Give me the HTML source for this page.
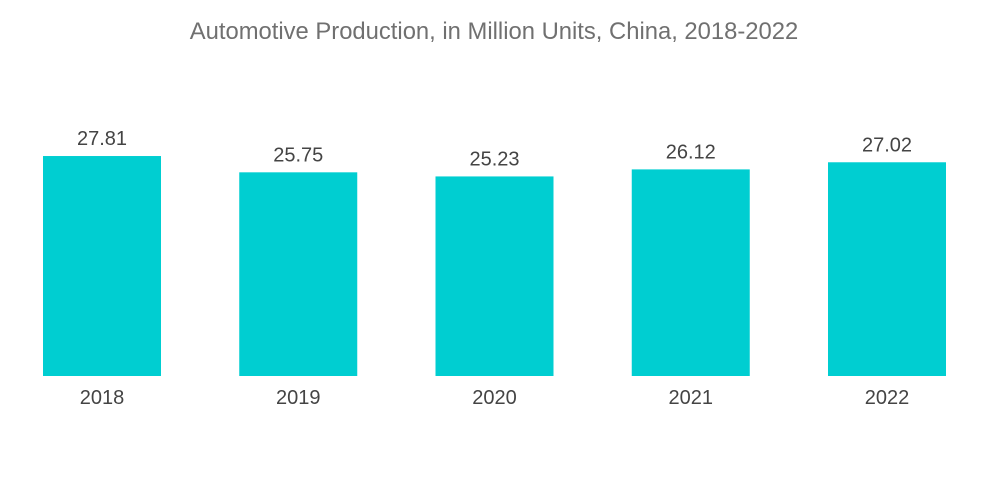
<!DOCTYPE html>
<html><head><meta charset="utf-8"><style>
html,body{margin:0;padding:0;background:#fff;width:1000px;height:504px;overflow:hidden}
svg text{font-family:"Liberation Sans",sans-serif}
</style></head><body>
<svg id="chart" width="1000" height="504">
<text x="494" y="39" text-anchor="middle" font-size="23.8" fill="#707070">Automotive Production, in Million Units, China, 2018-2022</text>
<g id="bars"></g>
</svg>
<script>
const categories = ["2018","2019","2020","2021","2022"];
const values = [27.81,25.75,25.23,26.12,27.02];
const valueLabels = ["27.81","25.75","25.23","26.12","27.02"];
const NS="http://www.w3.org/2000/svg";
const baseY=376, pxPerUnit=7.91, firstX=43, step=196.25, barW=118;
const yScale=v=>baseY-v*pxPerUnit;
const xScale=i=>firstX+i*step;
const g=document.getElementById('bars');
categories.forEach((c,i)=>{
  const x=xScale(i), y=yScale(values[i]);
  const r=document.createElementNS(NS,'rect');
  r.setAttribute('x',x);r.setAttribute('y',y);r.setAttribute('width',barW);r.setAttribute('height',baseY-y);r.setAttribute('fill','#00ced1');
  
  
  g.appendChild(r);
  const t=document.createElementNS(NS,'text');
  t.setAttribute('x',x+barW/2);t.setAttribute('y',y-11);t.setAttribute('text-anchor','middle');t.setAttribute('font-size','20');t.setAttribute('fill','#444');
  t.textContent=valueLabels[i];
  
  
  g.appendChild(t);
  const l=document.createElementNS(NS,'text');
  l.setAttribute('x',x+barW/2);l.setAttribute('y',404);l.setAttribute('text-anchor','middle');l.setAttribute('font-size','20');l.setAttribute('fill','#444');
  l.textContent=c;
  
  
  g.appendChild(l);
});
</script>
</body></html>
